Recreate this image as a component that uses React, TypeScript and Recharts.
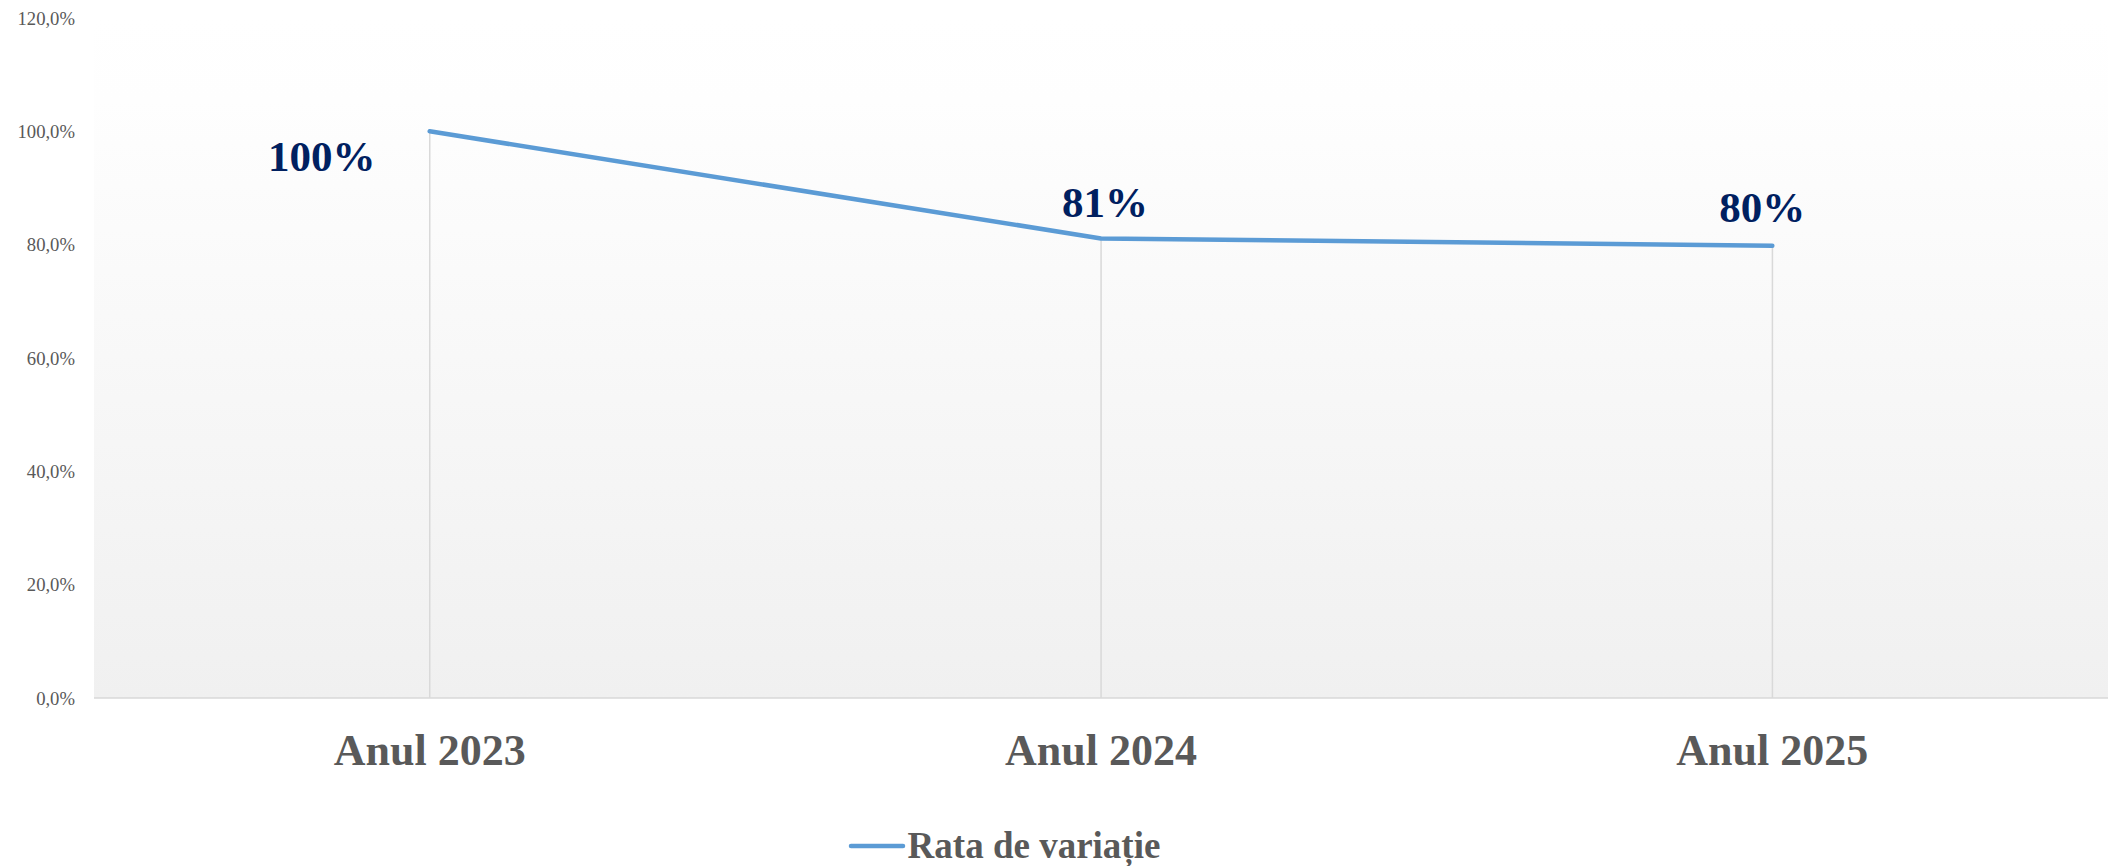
import {
  ComposedChart,
  Line,
  Bar,
  XAxis,
  YAxis,
  CartesianGrid,
  Legend,
  LabelList,
} from "recharts";

const categories = ["Anul 2023", "Anul 2024", "Anul 2025"];
const rate = [100, 81.1, 79.8];
const rateLabels = ["100%", "81%", "80%"];
const yTicks = [0, 20, 40, 60, 80, 100, 120];

const SERIES_NAME = "Rata de variație";
const FONT = "'Liberation Serif', 'Times New Roman', serif";
const COLOR_LINE = "#5b9bd5";
const COLOR_LABEL = "#002060";
const COLOR_TEXT = "#595959";
const COLOR_AXIS = "#d9d9d9";

// offsets of the data labels from their point (label centre, baseline)
const LABEL_OFFSETS = [
  { dx: -108, dy: 40 },
  { dx: 4, dy: -21 },
  { dx: -10, dy: -24 },
];

const data = categories.map((name, i) => ({
  name,
  rate: rate[i],
  label: rateLabels[i],
}));

function formatPct(v: number): string {
  return v.toFixed(1).replace(".", ",") + "%";
}

// eslint-disable-next-line @typescript-eslint/no-explicit-any
function PointLabel(props: any) {
  const { x, y, index, value } = props;
  const off = LABEL_OFFSETS[index] ?? { dx: 0, dy: -20 };
  return (
    <text
      x={x + off.dx}
      y={y + off.dy}
      textAnchor="middle"
      fontFamily={FONT}
      fontWeight={700}
      fontSize={43}
      fill={COLOR_LABEL}
    >
      {value}
    </text>
  );
}

function LegendContent() {
  return (
    <div
      style={{
        display: "flex",
        justifyContent: "center",
        alignItems: "center",
        boxSizing: "border-box",
        fontFamily: FONT,
        fontWeight: 700,
        fontSize: 37,
        lineHeight: "40px",
        color: COLOR_TEXT,
        height: 63,
        paddingTop: 23,
        paddingRight: 100,
      }}
    >
      <svg width={58} height={10} style={{ marginRight: 2 }}>
        <line x1={3} y1={5} x2={55} y2={5} stroke={COLOR_LINE} strokeWidth={4.5} strokeLinecap="round" />
      </svg>
      <span>{SERIES_NAME}</span>
    </div>
  );
}

export default function App() {
  return (
    <div style={{ position: "absolute", left: 0, top: 0, background: "#fff" }}>
      <ComposedChart
        width={2123}
        height={866}
        data={data}
        margin={{ top: 18, right: 15, left: 0, bottom: 0 }}
      >
        <defs>
          <linearGradient id="plotBg" x1="0" y1="0" x2="0" y2="1">
            <stop offset="0%" stopColor="#ffffff" />
            <stop offset="12%" stopColor="#fefefe" />
            <stop offset="100%" stopColor="#f0f0f0" />
          </linearGradient>
        </defs>
        <CartesianGrid horizontal={false} vertical={false} fill="url(#plotBg)" />
        <XAxis
          dataKey="name"
          axisLine={{ stroke: COLOR_AXIS, strokeWidth: 1.5 }}
          tickLine={false}
          tickSize={0}
          tickMargin={36}
          height={105}
          tick={{ fontFamily: FONT, fontWeight: 700, fontSize: 44, fill: COLOR_TEXT }}
        />
        <YAxis
          domain={[0, 120]}
          ticks={yTicks}
          tickFormatter={formatPct}
          axisLine={false}
          tickLine={false}
          tickSize={0}
          tickMargin={19}
          width={94}
          tick={{ fontFamily: FONT, fontSize: 18.67, fill: COLOR_TEXT }}
        />
        <Legend verticalAlign="bottom" content={<LegendContent />} />
        <Bar
          dataKey="rate"
          barSize={1.5}
          fill={COLOR_AXIS}
          isAnimationActive={false}
          legendType="none"
        />
        <Line
          dataKey="rate"
          name={SERIES_NAME}
          stroke={COLOR_LINE}
          strokeWidth={4.5}
          strokeLinecap="round"
          strokeLinejoin="round"
          dot={false}
          activeDot={false}
          isAnimationActive={false}
        >
          <LabelList dataKey="label" content={<PointLabel />} />
        </Line>
      </ComposedChart>
    </div>
  );
}
